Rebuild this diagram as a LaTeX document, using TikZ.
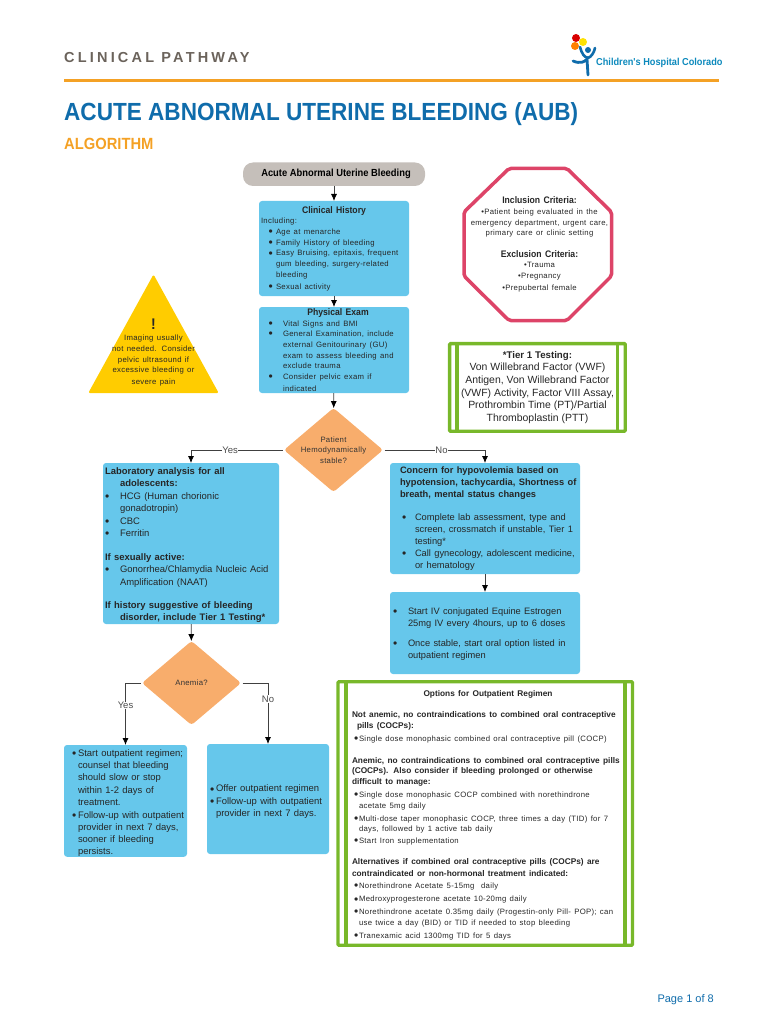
\documentclass[tikz,border=0pt]{standalone}
\usepackage{fontspec}
\usepackage{xcolor}
\setmainfont{Liberation Sans}
\newfontfamily\widesf[LetterSpace=4]{Liberation Sans}
\newfontfamily\narrowsf[FakeStretch=0.91]{Liberation Sans}
\usetikzlibrary{shapes,arrows.meta,calc}
\definecolor{skyfill}{HTML}{66C7EB}
\definecolor{peachfill}{HTML}{F8AD6C}
\definecolor{greenframe}{HTML}{78B82A}
\definecolor{redframe}{HTML}{DD4468}
\definecolor{yellowfill}{HTML}{FFCC00}
\definecolor{pillgray}{HTML}{C5BFBA}
\definecolor{titleblue}{HTML}{0F6CAB}
\definecolor{railorange}{HTML}{F4A125}
\definecolor{headgray}{HTML}{6B635B}
\newcommand{\blt}[2]{\makebox[#1][l]{\raisebox{-1.2pt}{\fontsize{12}{12}\selectfont\textbullet}}{#2}}
\newcommand{\cnt}[2]{\hspace*{#1}\mbox{#2}}
\newcommand{\smallsf}{\widesf\fontsize{7.75}{10.7}\selectfont}
\newcommand{\headsf}{\narrowsf\bfseries\fontsize{9.5}{10.7}\selectfont}
\newcommand{\bodysf}{\fontsize{9.45}{12.4}\selectfont}
\tikzstyle{line} = [draw=black!75, -{Latex[length=7pt,width=6pt,black]}, line width=0.8pt]
\tikzstyle{skybox} = [fill=skyfill, rounded corners=3pt, inner sep=0pt, outer sep=0pt, align=left, anchor=north west, text=black!85]
\tikzstyle{decision} = [diamond, fill=peachfill, rounded corners=3pt, inner sep=0pt, outer sep=0pt, aspect=1.18, align=center, text=black!80, font=\smallsf]
\tikzstyle{frame} = [draw=greenframe, line width=3.3pt, rounded corners=1pt, inner sep=0pt, outer sep=0pt, anchor=north west]
\tikzstyle{inner rule} = [draw=greenframe, line width=3.3pt]
\tikzstyle{edgeword} = [fill=white, inner sep=0.5pt, text=black!70, font=\fontsize{9.5}{10}\selectfont]

\begin{document}
\begin{tikzpicture}[x=1pt,y=-1pt]
\useasboundingbox (0,0) rectangle (768,1024);
% header
\node[anchor=west,inner sep=0pt,text=headgray] (pathway) at (64,57.5) {\addfontfeature{LetterSpace=22}\fontsize{14.5}{16}\selectfont\bfseries CLINICAL PATHWAY};
\fill[red!85!black] (576,38) circle (4);
\fill[yellow!85!orange] (583,42) circle (4);
\fill[orange] (575,46) circle (4);
\fill[titleblue] (588,50) circle (3);
\draw[titleblue,line width=2.6pt,line cap=round] (580,47) .. controls (582,54) and (584,57) .. (588,58) .. controls (591,57) and (594,53) .. (595,48);
\draw[titleblue,line width=2.8pt,line cap=round] (573,61) .. controls (580,64) and (585,62) .. (587,59) -- (588,75);
\node[anchor=west,inner sep=0pt,text=titleblue!80!cyan] (hospital) at (596,63) {\narrowsf\fontsize{10.1}{11}\selectfont\bfseries Children's Hospital Colorado};
\draw[railorange,line width=3pt] (64,81) -- (719,81);
\node[anchor=west,inner sep=0pt,text=titleblue] (title) at (64,114) {\narrowsf\fontsize{24.8}{26}\selectfont\bfseries ACUTE ABNORMAL UTERINE BLEEDING (AUB)};
\node[anchor=west,inner sep=0pt,text=railorange] (algorithm) at (64,144) {\narrowsf\fontsize{16.2}{18}\selectfont\bfseries ALGORITHM};
%
\node[fill=pillgray,rounded corners=10pt,minimum width=182pt,minimum height=23.5pt,inner sep=0pt,outer sep=0pt,anchor=north west] (start) at (243,162.5) {\hspace*{4pt}\narrowsf\fontsize{10.3}{11}\selectfont\bfseries Acute Abnormal Uterine Bleeding};
\node[skybox,minimum width=150pt,minimum height=95pt,text width=150pt] (history) at (259,201) {\smallsf
\makebox[150pt][c]{\headsf Clinical History}\\
\cnt{2pt}{Including:}\\
\cnt{9.5pt}{\blt{7.5pt}{Age at menarche}}\\
\cnt{9.5pt}{\blt{7.5pt}{Family History of bleeding}}\\
\cnt{9.5pt}{\blt{7.5pt}{Easy Bruising, epitaxis, frequent}}\\
\cnt{17pt}{gum bleeding, surgery-related}\\
\cnt{17pt}{bleeding}\\
\cnt{9.5pt}{\blt{7.5pt}{Sexual activity}}};
\node[skybox,minimum width=150pt,minimum height=86pt,text width=150pt] (exam) at (259,307) {\smallsf
\makebox[158pt][c]{\headsf Physical Exam}\\
\cnt{9.5pt}{\blt{14.5pt}{Vital Signs and BMI}}\\
\cnt{9.5pt}{\blt{14.5pt}{General Examination, include}}\\
\cnt{24pt}{external Genitourinary (GU)}\\
\cnt{24pt}{exam to assess bleeding and}\\
\cnt{24pt}{exclude trauma}\\
\cnt{9.5pt}{\blt{14.5pt}{Consider pelvic exam if}}\\
\cnt{24pt}{indicated}};
\node[decision,minimum width=99pt,minimum height=84pt] (stable) at (333.5,450) {Patient\\Hemodynamically\\stable?};
%
\draw[fill=yellowfill,draw=yellowfill,line width=2pt,line join=round] (153.5,276.5) -- (217,392) -- (90,392) -- cycle;
\node[inner sep=0pt,text width=110pt,align=center,text=black!85] (imaging) at (153.5,352.5) {{\headsf\fontsize{15.4}{15}\selectfont !}\\[1pt]\smallsf Imaging usually\\not needed. Consider\\pelvic ultrasound if\\excessive bleeding or\\severe pain};
%
\draw[redframe,line width=3.5pt,rounded corners=2pt] (509,168.5) -- (567,168.5) -- (611.5,212) -- (611.5,276) -- (567,320.5) -- (509,320.5) -- (464,276) -- (464,212) -- cycle;
\node[inner sep=0pt,text width=148pt,align=center,text=black!85] (criteria) at (539.5,244.5) {{\headsf Inclusion Criteria:}\\
\smallsf\textbullet Patient being evaluated in the\\emergency department, urgent care,\\primary care or clinic setting\\[10.5pt]
{\headsf Exclusion Criteria:}\\
\textbullet Trauma\\\textbullet Pregnancy\\\textbullet Prepubertal female};
%
\node[frame,minimum width=175.7pt,minimum height=87.7pt,align=center,text=black!85,font=\fontsize{10.45}{12.6}\selectfont] (tier) at (449.6,343.6) {{\fontsize{9.7}{12.6}\selectfont\bfseries *Tier 1 Testing:}\\Von Willebrand Factor (VWF)\\Antigen, Von Willebrand Factor\\(VWF) Activity, Factor VIII Assay,\\Prothrombin Time (PT)/Partial\\Thromboplastin (PTT)};
\path[inner rule] ($(tier.north west)+(7.5,0)$) -- ($(tier.south west)+(7.5,0)$);
\path[inner rule] ($(tier.north east)+(-7.5,0)$) -- ($(tier.south east)+(-7.5,0)$);
%
\node[skybox,minimum width=176pt,minimum height=161pt,text width=176pt] (lab) at (103,463) {\bodysf
\cnt{2pt}{\rule{0pt}{9.5pt}\bfseries Laboratory analysis for all}\\
\cnt{17pt}{\bfseries adolescents:}\\
\cnt{2pt}{\blt{15pt}{HCG (Human chorionic}}\\
\cnt{17pt}{gonadotropin)}\\
\cnt{2pt}{\blt{15pt}{CBC}}\\
\cnt{2pt}{\blt{15pt}{Ferritin}}\\[11.5pt]
\cnt{2pt}{\bfseries If sexually active:}\\
\cnt{2pt}{\blt{15pt}{Gonorrhea/Chlamydia Nucleic Acid}}\\
\cnt{17pt}{Amplification (NAAT)}\\[10.5pt]
\cnt{2pt}{\bfseries If history suggestive of bleeding}\\
\cnt{17pt}{\bfseries disorder, include Tier 1 Testing*}};
\node[decision,minimum width=99pt,minimum height=84pt] (anemia) at (191.5,683) {Anemia?};
\node[skybox,minimum width=123pt,minimum height=111pt,text width=123pt] (regimenyes) at (64,745) {\bodysf
\cnt{8pt}{\rule{0pt}{11pt}\blt{6pt}{Start outpatient regimen;}}\\
\cnt{14pt}{counsel that bleeding}\\
\cnt{14pt}{should slow or stop}\\
\cnt{14pt}{within 1-2 days of}\\
\cnt{14pt}{treatment.}\\
\cnt{8pt}{\blt{6pt}{Follow-up with outpatient}}\\
\cnt{14pt}{provider in next 7 days,}\\
\cnt{14pt}{sooner if bleeding}\\
\cnt{14pt}{persists.}};
\node[skybox,minimum width=122pt,minimum height=110pt,text width=122pt] (regimenno) at (207,744) {\bodysf
\cnt{3pt}{\rule{0pt}{12pt}\blt{6pt}{Offer outpatient regimen}}\\
\cnt{3pt}{\blt{6pt}{Follow-up with outpatient}}\\
\cnt{9pt}{provider in next 7 days.}};
%
\node[skybox,minimum width=190pt,minimum height=111pt,text width=190pt] (concern) at (390,463) {\fontsize{9.3}{11.9}\selectfont
\cnt{10pt}{\bfseries Concern for hypovolemia based on}\\
\cnt{10pt}{\bfseries hypotension, tachycardia, Shortness of}\\
\cnt{10pt}{\bfseries breath, mental status changes}\\[11.5pt]
\cnt{12pt}{\blt{13pt}{Complete lab assessment, type and}}\\
\cnt{25pt}{screen, crossmatch if unstable, Tier 1}\\
\cnt{25pt}{testing*}\\
\cnt{12pt}{\blt{13pt}{Call gynecology, adolescent medicine,}}\\
\cnt{25pt}{or hematology}};
\node[skybox,minimum width=190pt,minimum height=82pt,text width=190pt] (estrogen) at (390,592) {\fontsize{9.3}{11.7}\selectfont
\cnt{3pt}{\rule{0pt}{8.5pt}\blt{15pt}{Start IV conjugated Equine Estrogen}}\\
\cnt{18pt}{25mg IV every 4hours, up to 6 doses}\\[8.5pt]
\cnt{3pt}{\blt{15pt}{Once stable, start oral option listed in}}\\
\cnt{18pt}{outpatient regimen}};
%
\node[frame,minimum width=294.5pt,minimum height=263.5pt,text width=294.5pt,align=left,text=black!85] (options) at (338,681.7) {\fontsize{8.3}{10.6}\selectfont
\makebox[300pt][c]{\rule{0pt}{9.5pt}\bfseries Options for Outpatient Regimen}\\[10pt]
\cnt{14pt}{\bfseries Not anemic, no contraindications to combined oral contraceptive}\\
\cnt{19pt}{\bfseries pills (COCPs):}\\[2.5pt]
\cnt{16pt}{\smallsf\blt{5pt}{Single dose monophasic combined oral contraceptive pill (COCP)}}\\[11.5pt]
\cnt{14pt}{\bfseries Anemic, no contraindications to combined oral contraceptive pills}\\
\cnt{14pt}{\bfseries (COCPs). Also consider if bleeding prolonged or otherwise}\\
\cnt{14pt}{\bfseries difficult to manage:}\\[2pt]
\cnt{16pt}{\smallsf\blt{5pt}{Single dose monophasic COCP combined with norethindrone}}\\[1pt]
\cnt{21pt}{\smallsf acetate 5mg daily}\\[2pt]
\cnt{16pt}{\smallsf\blt{5pt}{Multi-dose taper monophasic COCP, three times a day (TID) for 7}}\\
\cnt{21pt}{\smallsf days, followed by 1 active tab daily}\\[1pt]
\cnt{16pt}{\smallsf\blt{5pt}{Start Iron supplementation}}\\[10.5pt]
\cnt{14pt}{\bfseries Alternatives if combined oral contraceptive pills (COCPs) are}\\[1.5pt]
\cnt{14pt}{\bfseries contraindicated or non-hormonal treatment indicated:}\\[1.5pt]
\cnt{16pt}{\smallsf\blt{5pt}{Norethindrone Acetate 5-15mg\ \ daily}}\\[2.5pt]
\cnt{16pt}{\smallsf\blt{5pt}{Medroxyprogesterone acetate 10-20mg daily}}\\[2pt]
\cnt{16pt}{\smallsf\blt{5pt}{Norethindrone acetate 0.35mg daily (Progestin-only Pill- POP); can}}\\
\cnt{21pt}{\smallsf use twice a day (BID) or TID if needed to stop bleeding}\\[1pt]
\cnt{16pt}{\smallsf\blt{5pt}{Tranexamic acid 1300mg TID for 5 days}}};
\path[inner rule] ($(options.north west)+(8,0)$) -- ($(options.south west)+(8,0)$);
\path[inner rule] ($(options.north east)+(-7.5,0)$) -- ($(options.south east)+(-7.5,0)$);
%
\path[line] (start) -- (history);
\path[line] (history) -- (exam);
\path[line] (exam) -- (stable);
\path[line] (lab) -- (anemia);
\path[line] (concern) -- (estrogen);
\path[line,shorten <=1.5pt] (stable.west) -| node[edgeword,pos=0.29] (yesstable) {Yes} (lab.north);
\path[line,shorten <=1.5pt] (stable.east) -| node[edgeword,pos=0.287] (nostable) {No} (concern.north);
\path[line,shorten <=1.5pt] (anemia.west) -| node[edgeword,pos=0.68] (yesanemia) {Yes} (regimenyes.north);
\path[line,shorten <=1.5pt] (anemia.east) -| node[edgeword,pos=0.63] (noanemia) {No} (regimenno.north);
%
\node[anchor=east,inner sep=0pt,text=titleblue] (pagenum) at (714,1000) {\fontsize{11}{13}\selectfont Page 1 of 8};
\end{tikzpicture}
\end{document}
